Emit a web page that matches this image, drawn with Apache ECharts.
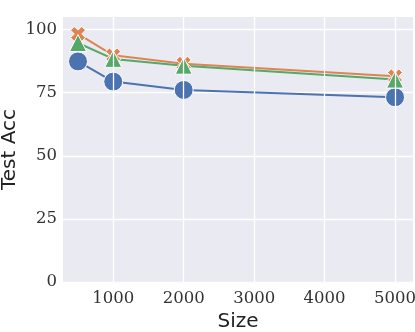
<!DOCTYPE html>
<html>
<head>
<meta charset="utf-8">
<script src="https://cdn.jsdelivr.net/npm/echarts@6/dist/echarts.min.js"></script>
<style>
  html, body { margin: 0; padding: 0; background: #fff; }
  #chart { width: 415px; height: 332px; }
</style>
</head>
<body>
<div id="chart"></div>
<script>
// data
let sizes = [500, 1000, 2000, 5000];
let blueAcc = [87.4, 79.4, 76.1, 73.2];
let orangeAcc = [98.3, 89.8, 86.5, 81.5];
let greenAcc = [94.7, 88.4, 85.7, 80.2];
let xTicks = [1000, 2000, 3000, 4000, 5000];
let yTicks = [0, 25, 50, 75, 100];

// filled "X" marker like seaborn's
let xShape = 'path://M0.25,0 L0.5,0.25 L0.75,0 L1,0.25 L0.75,0.5 L1,0.75 L0.75,1 L0.5,0.75 L0.25,1 L0,0.75 L0.25,0.5 L0,0.25 Z';

let pairs = (ys) => sizes.map((x, i) => [x, ys[i]]);

let chart = echarts.init(document.getElementById('chart'));

let mkSeries = (name, ys, color, symbol, symSize) => ({
    name: name,
    type: 'line',
    data: pairs(ys),
    symbol: symbol,
    symbolSize: symSize,
    showAllSymbol: true,
    z: 3,
    lineStyle: { color: color, width: 2 },
    itemStyle: { color: color, borderColor: '#fff', borderWidth: 1 },
    emphasis: { disabled: true }
});

let tickFont = { fontFamily: 'DejaVu Serif', fontSize: 16.5, color: '#333' };

let option = {
    animation: false,
    backgroundColor: '#fff',
    grid: {
        left: 63, right: 2, top: 17, bottom: 50,
        outerBoundsMode: 'none', containLabel: false,
        show: true, backgroundColor: '#EAEAF2', borderWidth: 0
    },
    xAxis: {
        type: 'value',
        min: 287,
        max: 5255,
        name: 'Size',
        nameLocation: 'middle',
        nameGap: 30,
        nameMoveOverlap: false,
        nameTextStyle: { fontFamily: 'DejaVu Sans', fontSize: 20, color: '#222' },
        axisLine: { show: false },
        axisTick: { show: false },
        axisLabel: Object.assign({ margin: 8, customValues: xTicks, formatter: (v) => String(v) }, tickFont),
        splitLine: { show: false }
    },
    yAxis: {
        type: 'value',
        min: 0,
        max: 105,
        name: 'Test Acc',
        nameLocation: 'middle',
        nameGap: 43,
        nameMoveOverlap: false,
        nameTextStyle: { fontFamily: 'DejaVu Sans', fontSize: 20, color: '#222' },
        axisLine: { show: false },
        axisTick: { show: false, customValues: yTicks },
        axisLabel: Object.assign({ margin: 6, customValues: yTicks }, tickFont),
        splitLine: { show: true, lineStyle: { color: '#fff', width: 1.3 } }
    },
    series: [
        {
            // vertical grid lines at the x ticks
            type: 'line',
            data: [],
            z: 1,
            silent: true,
            markLine: {
                silent: true,
                symbol: 'none',
                label: { show: false },
                lineStyle: { color: '#fff', width: 1.3, type: 'solid' },
                data: xTicks.map((v) => ({ xAxis: v }))
            }
        },
        mkSeries('a', blueAcc, '#4C72B0', 'circle', 19),
        mkSeries('b', orangeAcc, '#DD8452', xShape, 15),
        mkSeries('c', greenAcc, '#55A868', 'triangle', 17)
    ]
};

chart.setOption(option);
</script>
</body>
</html>
